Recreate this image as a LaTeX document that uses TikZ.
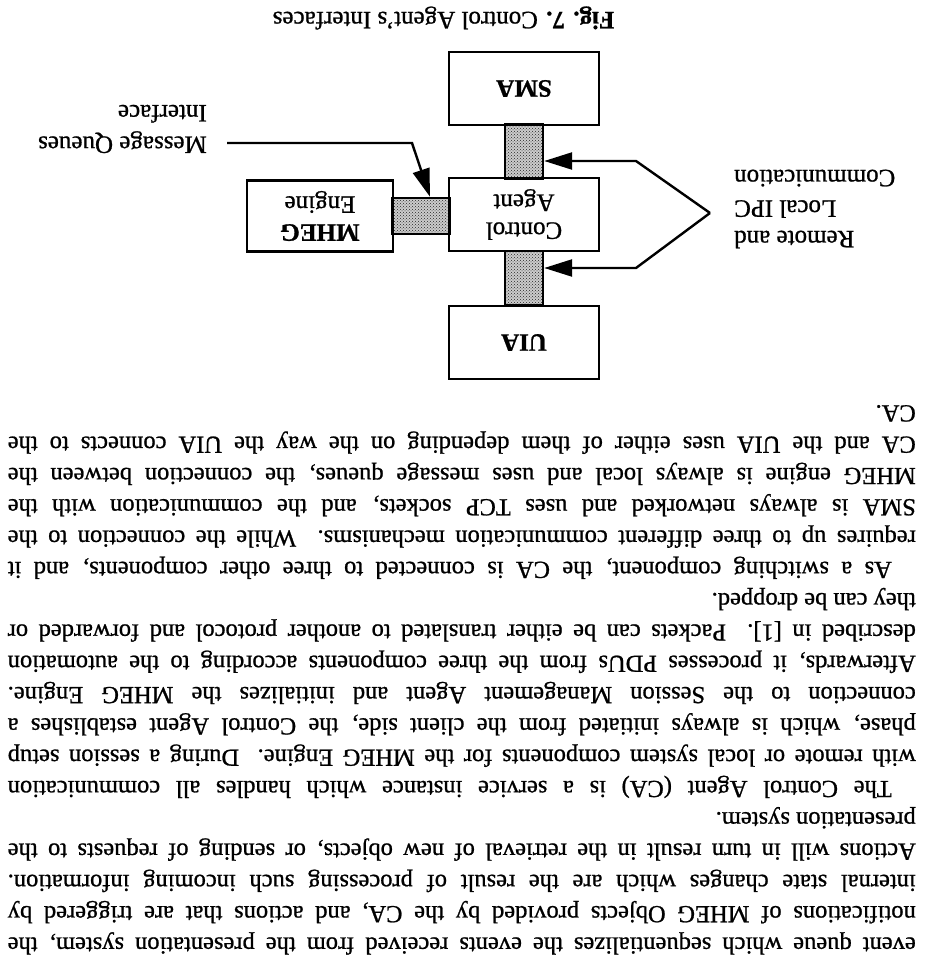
\documentclass[tikz,border=0pt]{standalone}
\usepackage{fontspec}
\setmainfont{Liberation Serif}[FakeBold=0.9]
\usetikzlibrary{arrows.meta,patterns,calc}

% fonts for the figure labels and the running text
\newcommand\figlblfont{\fontsize{25}{28}\selectfont}
\newcommand\paratextfont{\fontsize{24.5}{31}\selectfont}

% one line of running text: justified, indented, or a paragraph's last line
\newcommand\fullline[2]{\node[bodyline] (ln#1) at (8,{-23.5-31.3*(#1-1)}) {\makebox[908pt][s]{#2}};}
\newcommand\indentline[2]{\node[bodyline] (ln#1) at (32,{-23.5-31.3*(#1-1)}) {\makebox[884pt][s]{#2}};}
\newcommand\lastline[2]{\node[bodyline] (ln#1) at (8,{-23.5-31.3*(#1-1)}) {#2};}

\begin{document}
\begin{tikzpicture}[x=1pt,y=1pt,
  box/.style={draw, line width=2.8pt, minimum width=150pt, minimum height=73pt,
    inner sep=0pt, align=center, font=\figlblfont},
  link/.style={draw, line width=2.4pt, preaction={fill=gray!40},
    pattern=crosshatch dots, pattern color=black!85, inner sep=0pt},
  arr/.style={line width=2.4pt, -{Triangle[length=28pt,width=17pt]}},
  bodyline/.style={anchor=base west, inner sep=0pt, font=\paratextfont},
  note/.style={inner sep=0pt, font=\figlblfont},
]
\fill[white] (0,0) rectangle (924,-961);
\useasboundingbox (0,0) rectangle (924,-961);

% the printed page is turned upside down
\begin{scope}[rotate around={180:(462,-480.5)}, transform shape]

% ---- running text ----
\fullline{1}{event queue which sequentializes the events received from the presentation system, the}
\fullline{2}{notifications of MHEG Objects provided by the CA, and actions that are triggered by}
\fullline{3}{internal state changes which are the result of processing such incoming information.}
\fullline{4}{Actions will in turn result in the retrieval of new objects, or sending of requests to the}
\lastline{5}{presentation system.}
\indentline{6}{The Control Agent (CA) is a service instance which handles all communication}
\fullline{7}{with remote or local system components for the MHEG Engine. During a session setup}
\fullline{8}{phase, which is always initiated from the client side, the Control Agent establishes a}
\fullline{9}{connection to the Session Management Agent and initializes the MHEG Engine.}
\fullline{10}{Afterwards, it processes PDUs from the three components according to the automation}
\fullline{11}{described in [1]. Packets can be either translated to another protocol and forwarded or}
\lastline{12}{they can be dropped.}
\indentline{13}{As a switching component, the CA is connected to three other components, and it}
\fullline{14}{requires up to three different communication mechanisms. While the connection to the}
\fullline{15}{SMA is always networked and uses TCP sockets, and the communication with the}
\fullline{16}{MHEG engine is always local and uses message queues, the connection between the}
\fullline{17}{CA and the UIA uses either of them depending on the way the UIA connects to the}
\lastline{18}{CA.}

% ---- message-queue / socket links (drawn first, boxes cover their ends) ----
\node[link, minimum width=38pt, minimum height=54pt] (lkUIA) at (400,-683) {};
\node[link, minimum width=38pt, minimum height=54pt] (lkSMA) at (400,-809.5) {};
\node[link, minimum width=57pt, minimum height=36pt] (lkMHEG) at (503,-745) {};

% ---- components ----
\node[box] (uia) at (400,-618.5) {\textbf{UIA}};
\node[box] (ca) at (400,-746.5) {Control\\Agent};
\node[box, minimum width=146pt, minimum height=71pt] (mheg) at (604,-745) {\textbf{MHEG}\\Engine};
\node[box] (sma) at (400,-872.5) {\textbf{SMA}};

% ---- remote and local IPC ----
\node[note, anchor=east, align=right, font=\fontsize{25}{30.5}\selectfont] (ipc) at (190,-752)
  {Remote and\\Local IPC\\Communication};
\coordinate (apex) at (214,-748);
\coordinate (kUp) at (288,-693);
\coordinate (kDn) at (288,-800);
\draw[arr] (apex) -- (kUp) -- (kUp -| lkUIA.west);
\draw[arr] (apex) -- (kDn) -- (kDn -| lkSMA.west);

% ---- message queues interface ----
\node[note, anchor=west, align=left, font=\fontsize{25}{31.5}\selectfont] (mq) at (717,-832)
  {Message Queues\\Interface};
\coordinate (mqStart) at (697,-818);
\coordinate (mqBend) at (512,-818);
\draw[arr] (mqStart) -- (mqBend) -- ($(lkMHEG.south)+(-9,0)$);

% ---- caption ----
\node[note] (cap) at (480.5,-943) {\textbf{Fig. 7.} Control Agent's Interfaces};

\end{scope}
\end{tikzpicture}
\end{document}
